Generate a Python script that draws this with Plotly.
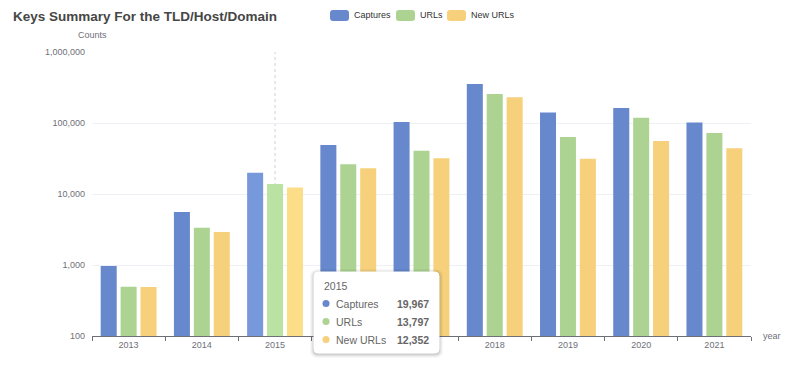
import plotly.graph_objects as go

years = ["2013", "2014", "2015", "2016", "2017", "2018", "2019", "2020", "2021"]
captures = [970, 5570, 19967, 49000, 103000, 354000, 141000, 163000, 102000]
urls = [495, 3350, 13797, 26200, 40800, 256000, 63500, 119000, 72300]
new_urls = [490, 2920, 12352, 23000, 31800, 230000, 31400, 55700, 44000]
series_names = ["Captures", "URLs", "New URLs"]
y_ticks = [100, 1000, 10000, 100000, 1000000]
y_tick_labels = ["100", "1,000", "10,000", "100,000", "1,000,000"]
hover_year = "2015"

colors = ["#6788cc", "#acd391", "#f6d07b"]
hi_colors = ["#7898dc", "#bae2a2", "#fcdd88"]

FONT = "Liberation Sans, Arial, Helvetica, sans-serif"
W, H = 800, 366
L, R, T, B = 92, 49, 52, 30
PW, PH = W - L - R, H - T - B


def px(xp):
    return (xp - L) / PW


def py(yp):
    return (H - B - yp) / PH


fig = go.Figure()
hi_idx = years.index(hover_year)
for name, vals, c, hc in zip(series_names, [captures, urls, new_urls], colors, hi_colors):
    cols = [hc if i == hi_idx else c for i in range(len(years))]
    fig.add_trace(go.Bar(x=years, y=vals, name=name, marker=dict(color=cols, line=dict(width=0)),
                         showlegend=False))

shapes = []
annotations = []

# dashed axis pointer
shapes.append(dict(type="line", xref="x", yref="paper", x0=hi_idx, x1=hi_idx, y0=0, y1=1,
                   line=dict(color="#d0d0d0", width=1, dash="3px,3px"), layer="below"))


def rrect(x0, y0, x1, y1, r):
    return (f"M {px(x0+r)} {py(y0)} L {px(x1-r)} {py(y0)} Q {px(x1)} {py(y0)} {px(x1)} {py(y0+r)} "
            f"L {px(x1)} {py(y1-r)} Q {px(x1)} {py(y1)} {px(x1-r)} {py(y1)} "
            f"L {px(x0+r)} {py(y1)} Q {px(x0)} {py(y1)} {px(x0)} {py(y1-r)} "
            f"L {px(x0)} {py(y0+r)} Q {px(x0)} {py(y0)} {px(x0+r)} {py(y0)} Z")


# custom legend
leg_x = [330, 396, 447]
for i, name in enumerate(series_names):
    x0 = leg_x[i]
    shapes.append(dict(type="path", xref="paper", yref="paper", path=rrect(x0, 10, x0 + 19, 21, 3),
                       fillcolor=colors[i], line=dict(width=0), layer="above"))
    annotations.append(dict(xref="paper", yref="paper", x=px(x0 + 22), y=py(15.5), text=name,
                            showarrow=False, xanchor="left", yanchor="middle",
                            font=dict(family=FONT, size=9, color="#333333")))

# tooltip box with shadow
for k, op in [(4, 0.03), (3, 0.04), (2, 0.05), (1, 0.07)]:
    shapes.append(dict(type="path", xref="paper", yref="paper", path=rrect(314 - k, 272 - k + 1, 439 + k, 353 + k + 1, 4 + k),
                       fillcolor=f"rgba(0,0,0,{op})", line=dict(width=0), layer="above"))
shapes.append(dict(type="path", xref="paper", yref="paper", path=rrect(314, 272, 439, 353, 4),
                   fillcolor="white", line=dict(color="#ffffff", width=1), layer="above"))

annotations.append(dict(xref="paper", yref="paper", x=px(322), y=py(286), text=hover_year,
                        showarrow=False, xanchor="left", yanchor="middle",
                        font=dict(family=FONT, size=10.5, color="#666666")))
vals_h = [captures[hi_idx], urls[hi_idx], new_urls[hi_idx]]
row_y = [303.5, 321.5, 339.5]
for i, name in enumerate(series_names):
    shapes.append(dict(type="circle", xref="paper", yref="paper",
                       x0=px(322.5), x1=px(329.5), y0=py(row_y[i] - 3.5), y1=py(row_y[i] + 3.5),
                       fillcolor=colors[i], line=dict(width=0), layer="above"))
    annotations.append(dict(xref="paper", yref="paper", x=px(334), y=py(row_y[i]), text=name,
                            showarrow=False, xanchor="left", yanchor="middle",
                            font=dict(family=FONT, size=10.5, color="#666666")))
    annotations.append(dict(xref="paper", yref="paper", x=px(431), y=py(row_y[i]), text=f"<b>{vals_h[i]:,}</b>",
                            showarrow=False, xanchor="right", yanchor="middle",
                            font=dict(family=FONT, size=10.5, color="#666666")))

# axis names
annotations.append(dict(xref="paper", yref="paper", x=px(92), y=py(35), text="Counts", showarrow=False,
                        xanchor="center", yanchor="middle", font=dict(family=FONT, size=9, color="#6e7079")))
annotations.append(dict(xref="paper", yref="paper", x=px(761), y=py(335.5), text="year", showarrow=False,
                        xanchor="left", yanchor="middle", font=dict(family=FONT, size=9, color="#6e7079")))

fig.update_layout(
    width=W, height=H,
    margin=dict(l=L, r=R, t=T, b=B, pad=0),
    paper_bgcolor="white", plot_bgcolor="white",
    title=dict(text="<b>Keys Summary For the TLD/Host/Domain</b>", x=13 / W, xanchor="left",
               y=1 - 16 / H, yanchor="middle", font=dict(family=FONT, size=13.5, color="#464646")),
    barmode="group", bargap=0.184, bargroupgap=0.196,
    hovermode=False,
    shapes=shapes, annotations=annotations,
    font=dict(family=FONT),
)
fig.update_xaxes(type="category", range=[-0.5, len(years) - 0.5], showline=True, linecolor="#6e7079", linewidth=1,
                 ticks="outside", tickson="boundaries", ticklen=4, tickcolor="#6e7079",
                 tickfont=dict(family=FONT, size=9, color="#6e7079"), showgrid=False, zeroline=False)
fig.update_yaxes(type="log", range=[2, 6], tickvals=y_ticks, ticktext=y_tick_labels,
                 showgrid=True, gridcolor="#eef0f5", gridwidth=1, showline=False, zeroline=False,
                 ticks="", ticklabelstandoff=6,
                 tickfont=dict(family=FONT, size=9, color="#6e7079"))

fig.write_html("out.html", config={"displayModeBar": False, "staticPlot": True},
               post_script="document.body.style.margin='0';document.body.style.overflow='hidden';")
